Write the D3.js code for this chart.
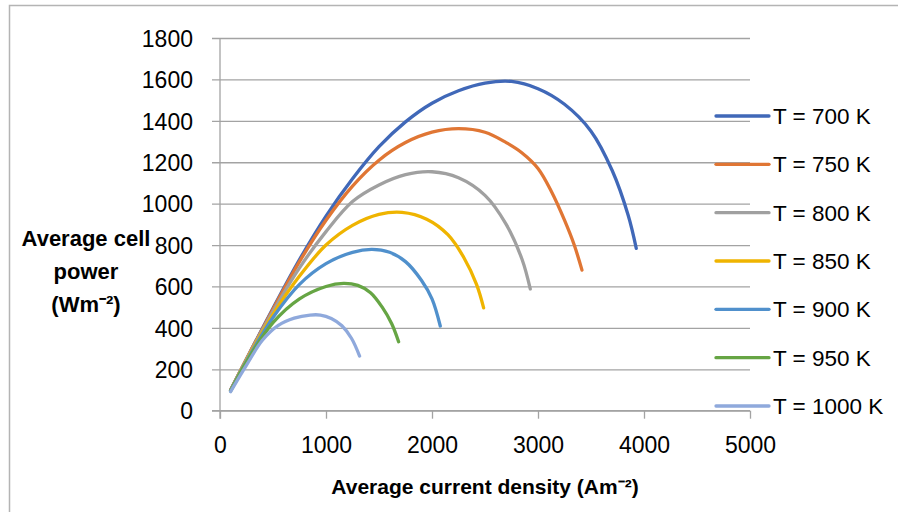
<!DOCTYPE html>
<html>
<head>
<meta charset="utf-8">
<script src="https://cdn.jsdelivr.net/npm/d3@7"></script>
<style>
  html, body { margin: 0; padding: 0; background: #fff; }
  svg { display: block; }
  text { font-family: "Liberation Sans", Arial, sans-serif; fill: #000; }
</style>
</head>
<body>
<svg id="chart" width="898" height="512"></svg>
<script>
// Average cell power (W m^-2) against average current density (A m^-2)
const seriesNames = ["T = 700 K", "T = 750 K", "T = 800 K", "T = 850 K", "T = 900 K", "T = 950 K", "T = 1000 K"];
const seriesColors = ["#4068b8", "#e07634", "#a0a0a0", "#efb400", "#5090cc", "#66a544", "#8fa9dc"];

const t700 = [[100,100],[250,250],[500,495],[750,730],[1000,940],[1250,1120],[1500,1275],[1750,1395],[2000,1485],[2250,1545],[2500,1582],[2750,1590],[3000,1555],[3250,1480],[3500,1350],[3700,1160],[3850,945],[3927,784]];
const t750 = [[100,100],[250,250],[500,490],[750,720],[1000,920],[1250,1085],[1500,1210],[1750,1295],[2000,1345],[2250,1362],[2500,1345],[2700,1295],[2850,1245],[3000,1170],[3130,1055],[3250,920],[3342,800],[3415,679]];
const t800 = [[100,99],[250,248],[500,480],[750,690],[1000,865],[1250,1010],[1500,1090],[1750,1140],[2000,1154],[2250,1125],[2500,1040],[2700,900],[2850,730],[2927,588]];
const t850 = [[100,98],[250,245],[500,465],[750,650],[1000,800],[1250,895],[1500,948],[1717,958],[1950,925],[2150,850],[2300,740],[2420,610],[2487,497]];
const t900 = [[100,97],[250,240],[500,450],[750,610],[1000,710],[1250,765],[1434,779],[1600,765],[1750,720],[1900,630],[2000,540],[2078,409]];
const t950 = [[100,95],[250,235],[500,425],[750,540],[1000,600],[1166,615],[1300,605],[1420,570],[1530,500],[1620,420],[1685,333]];
const t1000 = [[100,92],[250,220],[400,340],[550,412],[700,447],[850,462],[947,462],[1050,445],[1150,410],[1240,350],[1317,264]];
const seriesData = [t700, t750, t800, t850, t900, t950, t1000];

const xTicks = [0, 1000, 2000, 3000, 4000, 5000];
const yTicks = [0, 200, 400, 600, 800, 1000, 1200, 1400, 1600, 1800];

const xTitle = "Average current density (Am\u207B\u00B2)";
const yTitleLines = ["Average cell", "power", "(Wm\u207B\u00B2)"];

const svg = d3.select("#chart");
const plot = { left: 220, right: 750, top: 38, bottom: 410.7 };
const gridColor = "#a3a3a3";
const fmt = d3.format("d");

// chart frame (top and left edges)
svg.append("path")
  .attr("d", "M9.5,512V5.5H898")
  .attr("fill", "none").attr("stroke", "#b4b4b4").attr("stroke-width", 1.5);

const x = d3.scaleLinear().domain([0, 5000]).range([plot.left, plot.right]);
const y = d3.scaleLinear().domain([0, 1800]).range([plot.bottom, plot.top]);

// horizontal gridlines with the y tick marks
const yAxis = d3.axisLeft(y).tickValues(yTicks).tickFormat(fmt)
  .tickSize(-(plot.right - plot.left)).tickPadding(18).tickSizeOuter(0);
const gy = svg.append("g").attr("transform", `translate(${plot.left},0)`).call(yAxis);
gy.select(".domain").remove();
gy.selectAll(".tick line").attr("stroke", gridColor).attr("stroke-width", 1.3).attr("x1", -8);
gy.selectAll(".tick text")
  .attr("x", -27).attr("dy", "0.36em")
  .style("font-size", "23px").style("font-family", "'Liberation Sans', Arial, sans-serif");

// vertical axis line
svg.append("line")
  .attr("x1", plot.left).attr("x2", plot.left)
  .attr("y1", plot.top).attr("y2", plot.bottom + 8)
  .attr("stroke", gridColor).attr("stroke-width", 1.3);

// x axis
const xAxis = d3.axisBottom(x).tickValues(xTicks).tickFormat(fmt)
  .tickSize(8).tickPadding(14).tickSizeOuter(0);
const gx = svg.append("g").attr("transform", `translate(0,${plot.bottom})`).call(xAxis);
gx.select(".domain").attr("stroke", gridColor).attr("stroke-width", 1.3).attr("d", `M${plot.left - 8},0H${plot.right}`);
gx.selectAll(".tick line").attr("stroke", gridColor).attr("stroke-width", 1.3);
gx.selectAll(".tick text")
  .attr("y", 42.5).attr("dy", 0)
  .style("font-size", "23px").style("font-family", "'Liberation Sans', Arial, sans-serif");

// series lines
const line = d3.line()
  .x(d => x(d[0]))
  .y(d => y(d[1]))
  .curve(d3.curveCatmullRom.alpha(0.5));

svg.append("g").selectAll("path")
  .data(seriesData)
  .join("path")
  .attr("d", d => line(d))
  .attr("fill", "none")
  .attr("stroke", (d, i) => seriesColors[i])
  .attr("stroke-width", 3.3)
  .attr("stroke-linecap", "round")
  .attr("stroke-linejoin", "round");

// legend
const legendY = d3.scalePoint().domain(seriesNames).range([116, 406]);
const items = svg.append("g").selectAll("g").data(seriesNames).join("g")
  .attr("transform", d => `translate(716,${legendY(d)})`);
items.append("line")
  .attr("x1", 0).attr("x2", 53)
  .attr("stroke", (d, i) => seriesColors[i])
  .attr("stroke-width", 3.3).attr("stroke-linecap", "round");
items.append("text")
  .attr("x", 57).attr("dy", "0.36em")
  .style("font-size", "22.5px")
  .text(d => d);

// axis titles
svg.append("text")
  .attr("x", 485).attr("y", 494)
  .attr("text-anchor", "middle")
  .style("font-size", "21px").style("font-weight", "bold")
  .text(xTitle);

const yt = svg.append("text")
  .attr("text-anchor", "middle")
  .style("font-size", "22px").style("font-weight", "bold");
yt.selectAll("tspan").data(yTitleLines).join("tspan")
  .attr("x", 86)
  .attr("y", (d, i) => 246 + i * 33)
  .text(d => d);
</script>
</body>
</html>
